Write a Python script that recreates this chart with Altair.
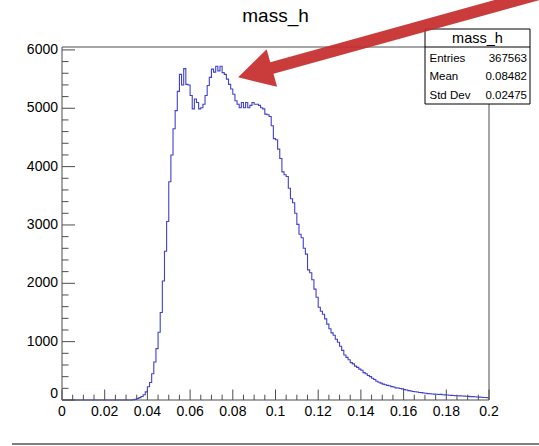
import altair as alt
import pandas as pd

# ---------------- data ----------------
bin_width = 0.001
counts = (
    [0] * 33
    + [5, 12, 25, 40, 60, 90, 140, 226, 300, 450,            # 33-42
       650, 880, 1160, 1500, 2040, 2550, 3060, 3740, 4200, 4650,  # 43-52
       4960, 5290, 5580, 5400, 5680, 5410, 5400, 5220, 4990, 5160,  # 53-62
       5100, 4990, 5010, 5070, 5220, 5390, 5530, 5670, 5620, 5720,  # 63-72
       5640, 5720, 5610, 5580, 5500, 5410, 5330, 5240, 5130, 5070,  # 73-82
       5010, 5100, 5010, 5100, 5010, 5050, 5100, 5070, 5070, 5050,  # 83-92
       5010, 4990, 4900, 4890, 4860, 4700, 4480, 4460, 4300, 4140,  # 93-102
       3910, 3860, 3830, 3630, 3450, 3380, 3200, 3010, 2840, 2780,  # 103-112
       2600, 2500, 2230, 2180, 2060, 1900, 1760, 1590, 1520, 1470,  # 113-122
       1390, 1300, 1220, 1150, 1110, 1040, 990, 920, 850, 770,      # 123-132
       730, 690, 640, 620, 580, 560, 530, 510, 470, 450,            # 133-142
       420, 400, 372, 352, 322, 305, 290, 272, 262, 250,            # 143-152
       244, 230, 222, 208, 205, 196, 190, 178, 172, 160,            # 153-162
       155, 146, 142, 136, 128, 126, 120, 116, 110, 108,            # 163-172
       104, 100, 98, 94, 96, 90, 88, 85, 82, 80,                    # 173-182
       78, 74, 74, 70, 68, 66, 63, 62, 58, 57,                      # 183-192
       55, 52, 50, 46, 44, 42, 38]                                  # 193-199
)
x_edges = [round(i * bin_width, 3) for i in range(len(counts) + 1)]

x_major = [0, 0.02, 0.04, 0.06, 0.08, 0.1, 0.12, 0.14, 0.16, 0.18, 0.2]
x_labels = ["0", "0.02", "0.04", "0.06", "0.08", "0.1", "0.12", "0.14", "0.16", "0.18", "0.2"]
x_minor = [round(i * 0.005, 3) for i in range(41) if i % 4 != 0]
y_major = [0, 1000, 2000, 3000, 4000, 5000, 6000]
y_labels = ["0", "1000", "2000", "3000", "4000", "5000", "6000"]
y_minor = [v for v in range(0, 6001, 200) if v % 1000 != 0]

title_text = "mass_h"
stats_title = "mass_h"
stats_names = ["Entries", "Mean", "Std Dev"]
stats_values = ["367563", "0.08482", "0.02475"]

arrow_tip_x = [0.0825]
arrow_tip_y = [5530]

# ---------------- styling ----------------
FONT = "Liberation Sans"
BLUE = "#4040d2"
FRAME = "#4d4d4d"
RED = "#c62d2d"
W, H = 427, 353
LEFT, TOP = 62, 47

xscale = alt.Scale(domain=[0, 0.2], nice=False, zero=False)
yscale = alt.Scale(domain=[0, 6050], nice=False, zero=True)

hist_df = pd.DataFrame({"x": x_edges, "count": counts + [counts[-1]]})

hist = alt.Chart(hist_df).mark_line(
    interpolate="step-after", color=BLUE, strokeWidth=1.1
).encode(
    x=alt.X("x:Q", scale=xscale, axis=None),
    y=alt.Y("count:Q", scale=yscale, axis=None),
)


def tick_layer(vals, channel, length):
    df = pd.DataFrame({"v": vals})
    base = alt.Chart(df).mark_rule(color=FRAME, strokeWidth=1)
    if channel == "y":
        return base.encode(y=alt.Y("v:Q", scale=yscale, axis=None),
                           x=alt.value(0), x2=alt.value(length))
    return base.encode(x=alt.X("v:Q", scale=xscale, axis=None),
                       y=alt.value(H), y2=alt.value(H - length))


ylab_df = pd.DataFrame({"v": y_major, "lab": y_labels})
ylab = alt.Chart(ylab_df).transform_filter("datum.v > 0").mark_text(
    font=FONT, fontSize=14, align="right", baseline="middle", color="black", dx=-4
).encode(y=alt.Y("v:Q", scale=yscale, axis=None), x=alt.value(0), text="lab:N")
ylab0 = alt.Chart(ylab_df).transform_filter("datum.v == 0").mark_text(
    font=FONT, fontSize=14, align="right", baseline="middle", color="black", dx=-4, dy=-6
).encode(y=alt.Y("v:Q", scale=yscale, axis=None), x=alt.value(0), text="lab:N")

xlab = alt.Chart(pd.DataFrame({"v": x_major, "lab": x_labels})).mark_text(
    font=FONT, fontSize=14, align="center", baseline="top", color="black"
).encode(x=alt.X("v:Q", scale=xscale, axis=None), y=alt.value(H + 5), text="lab:N")

one = pd.DataFrame({"a": [0]})

frame = alt.Chart(one).mark_rect(filled=False, stroke=FRAME, strokeWidth=1).encode(
    x=alt.value(0), x2=alt.value(W), y=alt.value(0), y2=alt.value(H))

# stats box
bx0, bx1, by0, by1 = 363, 468, -18, 57
box = alt.Chart(one).mark_rect(fill="white", stroke="black", strokeWidth=1).encode(
    x=alt.value(bx0), x2=alt.value(bx1), y=alt.value(by0), y2=alt.value(by1))
box_sep = alt.Chart(one).mark_rule(color="black", strokeWidth=1).encode(
    x=alt.value(bx0), x2=alt.value(bx1), y=alt.value(0))
box_title = alt.Chart(one).mark_text(
    text=stats_title, font=FONT, fontSize=14.5, align="center", baseline="middle", color="black"
).encode(x=alt.value((bx0 + bx1) / 2), y=alt.value(-8.5))

stat_layers = []
for i, (n, v) in enumerate(zip(stats_names, stats_values)):
    yy = 11.5 + 18.5 * i
    stat_layers.append(alt.Chart(one).mark_text(
        text=n, font=FONT, fontSize=11.5, align="left", baseline="middle", color="black"
    ).encode(x=alt.value(bx0 + 4.5), y=alt.value(yy)))
    stat_layers.append(alt.Chart(one).mark_text(
        text=v, font=FONT, fontSize=11.5, align="right", baseline="middle", color="black"
    ).encode(x=alt.value(bx1 - 3), y=alt.value(yy)))

title = alt.Chart(one).mark_text(
    text=title_text, font=FONT, fontSize=19, align="center", baseline="middle", color="black"
).encode(x=alt.value(W / 2), y=alt.value(-31))

ARROW = "M0,0 L3.5,-1.95 L3.5,-0.6 L34,-0.6 L34,0.6 L3.5,0.6 L3.5,1.95 Z"
arrow = alt.Chart(pd.DataFrame({"x": arrow_tip_x, "y": arrow_tip_y})).mark_point(
    shape=ARROW, size=400, angle=344.5, filled=True, color=RED, opacity=0.93, strokeWidth=0
).encode(x=alt.X("x:Q", scale=xscale, axis=None), y=alt.Y("y:Q", scale=yscale, axis=None))

bottom_line = alt.Chart(one).mark_rule(color="#555555", strokeWidth=1.5).encode(
    x=alt.value(-50), x2=alt.value(477), y=alt.value(397))

chart = alt.layer(
    hist,
    tick_layer(y_major, "y", 13), tick_layer(y_minor, "y", 6.5),
    tick_layer(x_major, "x", 10.5), tick_layer(x_minor, "x", 5.3),
    frame, ylab, ylab0, xlab,
    box, box_sep, box_title, *stat_layers, title, arrow, bottom_line,
).properties(
    width=W, height=H,
    padding={"left": LEFT, "top": TOP, "right": 539 - LEFT - W, "bottom": 446 - TOP - H},
    autosize=alt.AutoSizeParams(type="none"),
    background="white",
).configure_view(strokeWidth=0)

chart.save("out.html", embed_options={"renderer": "svg", "actions": False})
